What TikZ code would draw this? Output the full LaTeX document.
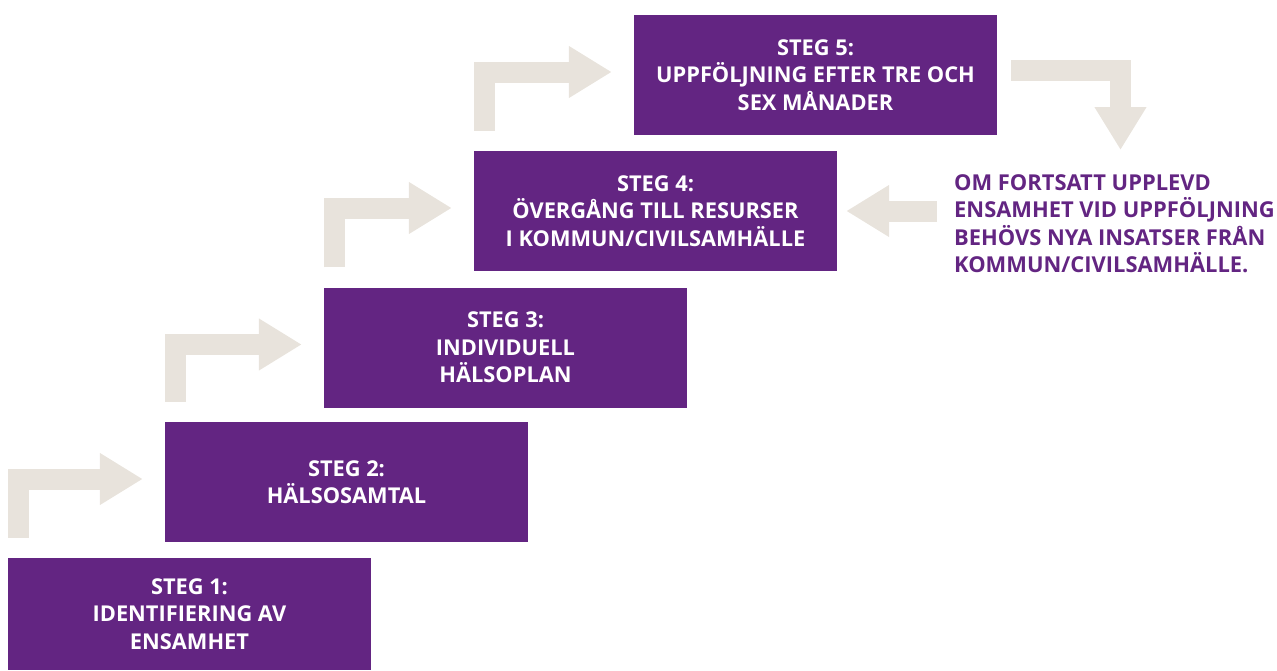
\documentclass[tikz,border=0pt]{standalone}
\usepackage{fontspec}
\setmainfont{Open Sans}
\usetikzlibrary{positioning,arrows.meta}
\definecolor{stegpurple}{RGB}{99,37,130}
\definecolor{arrowbeige}{RGB}{232,227,220}

\begin{document}
\begin{tikzpicture}[x=1pt,y=-1pt,
  step node/.style={fill=stegpurple,text=white,font=\bfseries\fontsize{21.8}{27.5}\selectfont,align=center,minimum width=363pt,minimum height=120pt,inner sep=0pt},
  bend arrow/.style={draw=arrowbeige,line width=21pt,line join=miter,-{Triangle[length=43pt,width=49pt]}},
  note node/.style={text=stegpurple,font=\bfseries\fontsize{21.9}{27.6}\selectfont,align=left,inner sep=0pt}]
\useasboundingbox (0,0) rectangle (1277,670);

% the five steps
\node[step node,minimum height=112pt] (s1) at (189.5,614) {STEG 1:\\IDENTIFIERING AV\\ENSAMHET};
\node[step node] (s2) at (346.5,482) {STEG 2:\\HÄLSOSAMTAL};
\node[step node] (s3) at (505.5,347.5) {STEG 3:\\INDIVIDUELL\\HÄLSOPLAN};
\node[step node] (s4) at (655.5,211) {STEG 4:\\ÖVERGÅNG TILL RESURSER\\I KOMMUN/CIVILSAMHÄLLE};
\node[step node] (s5) at (815.5,75) {STEG 5:\\UPPFÖLJNING EFTER TRE OCH\\SEX MÅNADER};

\node[note node,anchor=north west] (note) at (954,174) {OM FORTSATT UPPLEVD\\ENSAMHET VID UPPFÖLJNING\\BEHÖVS NYA INSATSER FRÅN\\KOMMUN/CIVILSAMHÄLLE.};

% bent arrows between the steps
\draw[bend arrow] ([xshift=10.5pt,yshift=20pt]s1.north west) |- ([xshift=-22pt,yshift=3pt]s2.west);
\draw[bend arrow] ([xshift=10.5pt,yshift=20pt]s2.north west) |- ([xshift=-22pt,yshift=3pt]s3.west);
\draw[bend arrow] ([xshift=10.5pt,yshift=20pt]s3.north west) |- ([xshift=-22pt,yshift=3pt]s4.west);
\draw[bend arrow] ([xshift=10.5pt,yshift=20pt]s4.north west) |- ([xshift=-22pt,yshift=3pt]s5.west);

% down to the note and back to step 4
\coordinate (down tip) at (1120.5,150);
\draw[bend arrow] ([xshift=14pt,yshift=4.5pt]s5.east) -| (down tip);
\path (note.west |- s4.east) coordinate (back base);
\draw[bend arrow] ([xshift=-17pt]back base) -- ([xshift=9pt]s4.east);
\end{tikzpicture}
\end{document}
